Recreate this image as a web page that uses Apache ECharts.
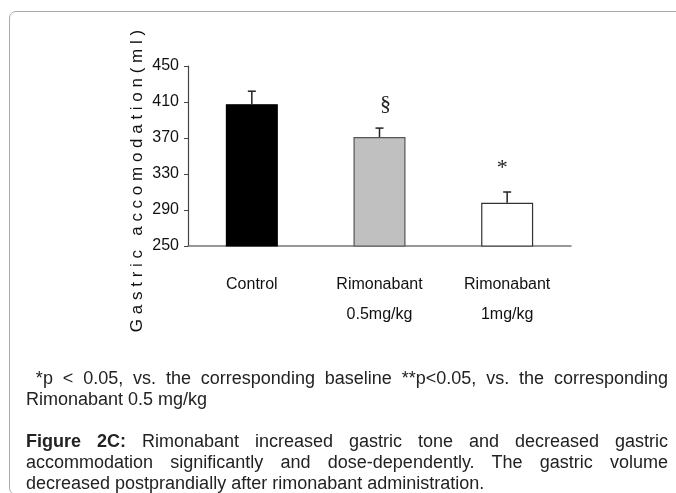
<!DOCTYPE html>
<html>
<head>
<meta charset="utf-8">
<script src="https://cdn.jsdelivr.net/npm/echarts@6/dist/echarts.min.js"></script>
<style>
  html, body { margin: 0; padding: 0; background: #fff; }
  #wrap { position: relative; width: 676px; height: 493px; overflow: hidden; font-family: "Liberation Sans", Arial, sans-serif; }
  #frame { position: absolute; left: 9px; top: 11px; width: 720px; height: 482px; border: 1px solid #aaa; border-radius: 7px; }
  #chart { position: absolute; left: 0; top: 0; width: 676px; height: 493px; }
  .note { position: absolute; left: 26px; width: 642px; font-size: 18px; line-height: 21px; color: #222; }
  .note div { text-align: justify; text-align-last: justify; }
  .note div.last { text-align-last: left; }
</style>
</head>
<body>
<div id="wrap">
  <div id="frame"></div>
  <div id="chart"></div>
  <div class="note" style="top:368px;">
    <div>&nbsp;*p &lt; 0.05, vs. the corresponding baseline **p&lt;0.05, vs. the corresponding</div>
    <div class="last">Rimonabant 0.5 mg/kg</div>
  </div>
  <div class="note" style="top:431px;">
    <div><b>Figure 2C:</b> Rimonabant increased gastric tone and decreased gastric</div>
    <div>accommodation significantly and dose-dependently. The gastric volume</div>
    <div class="last">decreased postprandially after rimonabant administration.</div>
  </div>
</div>
<script>
// data
const categories = ['Control', 'Rimonabant\n0.5mg/kg', 'Rimonabant\n1mg/kg'];
const meanValues = [407.5, 371, 298];
const errorValues = [14.5, 10, 12];
const sigMarks = ['', '§', '*'];
const yTicks = [250, 290, 330, 370, 410, 450];
const yTitle = 'Gastric accomodation(ml)';

(function () {
  // look of each bar
  const barStyles = [
    { color: '#000000', borderColor: '#000000' },
    { color: '#c0c0c0', borderColor: '#555555' },
    { color: '#ffffff', borderColor: '#333333' }
  ];
  // the marks sit a little off centre in the original
  const markShift = [0, 6, -5];

  function spaced(text) {
    return text.split('').join(' ');
  }

  function renderError(params, api) {
    const i = api.value(0);
    const mean = api.value(1);
    const err = api.value(2);
    const base = api.coord([i, mean]);
    const top = api.coord([i, mean + err]);
    const children = [
      { type: 'line', shape: { x1: base[0], y1: base[1], x2: top[0], y2: top[1] }, style: { stroke: '#222', lineWidth: 1.5 } },
      { type: 'line', shape: { x1: top[0] - 4, y1: top[1], x2: top[0] + 4, y2: top[1] }, style: { stroke: '#222', lineWidth: 1.5 } }
    ];
    const mark = sigMarks[i];
    if (mark) {
      children.push({
        type: 'text',
        style: {
          text: mark, x: top[0] + markShift[i], y: top[1] - 24,
          align: 'center', verticalAlign: 'middle',
          font: '22px "Liberation Serif", serif', fill: '#222'
        }
      });
    }
    return { type: 'group', children: children };
  }

  function initChart() {
    const chart = echarts.init(document.getElementById('chart'), null, { renderer: 'canvas' });
    const option = {
      animation: false,
      backgroundColor: 'transparent',
      grid: { left: 188, right: 105, top: 66, bottom: 247, containLabel: false, outerBoundsMode: 'none' },
      xAxis: {
        type: 'category',
        data: categories,
        axisLine: { lineStyle: { color: '#777', width: 1.5 } },
        axisTick: { inside: true, length: 6, lineStyle: { color: '#555' } },
        axisLabel: { margin: 24, color: '#111', fontSize: 16, lineHeight: 30, fontFamily: 'Liberation Sans, Arial, sans-serif', verticalAlign: 'top' }
      },
      yAxis: {
        type: 'value',
        min: yTicks[0],
        max: yTicks[yTicks.length - 1],
        interval: yTicks[1] - yTicks[0],
        splitLine: { show: false },
        axisLine: { show: true, lineStyle: { color: '#444', width: 1.2 } },
        axisTick: { show: true, length: 4, lineStyle: { color: '#444' } },
        axisLabel: { margin: 9, color: '#111', fontSize: 16, fontFamily: 'Liberation Sans, Arial, sans-serif' }
      },
      graphic: [{
        type: 'text',
        x: 137, y: 181,
        rotation: Math.PI / 2,
        style: {
          text: spaced(yTitle),
          align: 'center', verticalAlign: 'middle',
          font: '17px "Liberation Sans", Arial, sans-serif', fill: '#111'
        }
      }],
      series: [
        {
          type: 'bar',
          barWidth: 52,
          data: meanValues.map((v, i) => ({ value: v, itemStyle: Object.assign({ borderWidth: 1.2 }, barStyles[i]) })),
          z: 2
        },
        {
          type: 'custom',
          renderItem: renderError,
          data: meanValues.map((v, i) => [i, v, errorValues[i]]),
          z: 3
        }
      ]
    };
    chart.setOption(option);
  }

  initChart();
})();
</script>
</body>
</html>
